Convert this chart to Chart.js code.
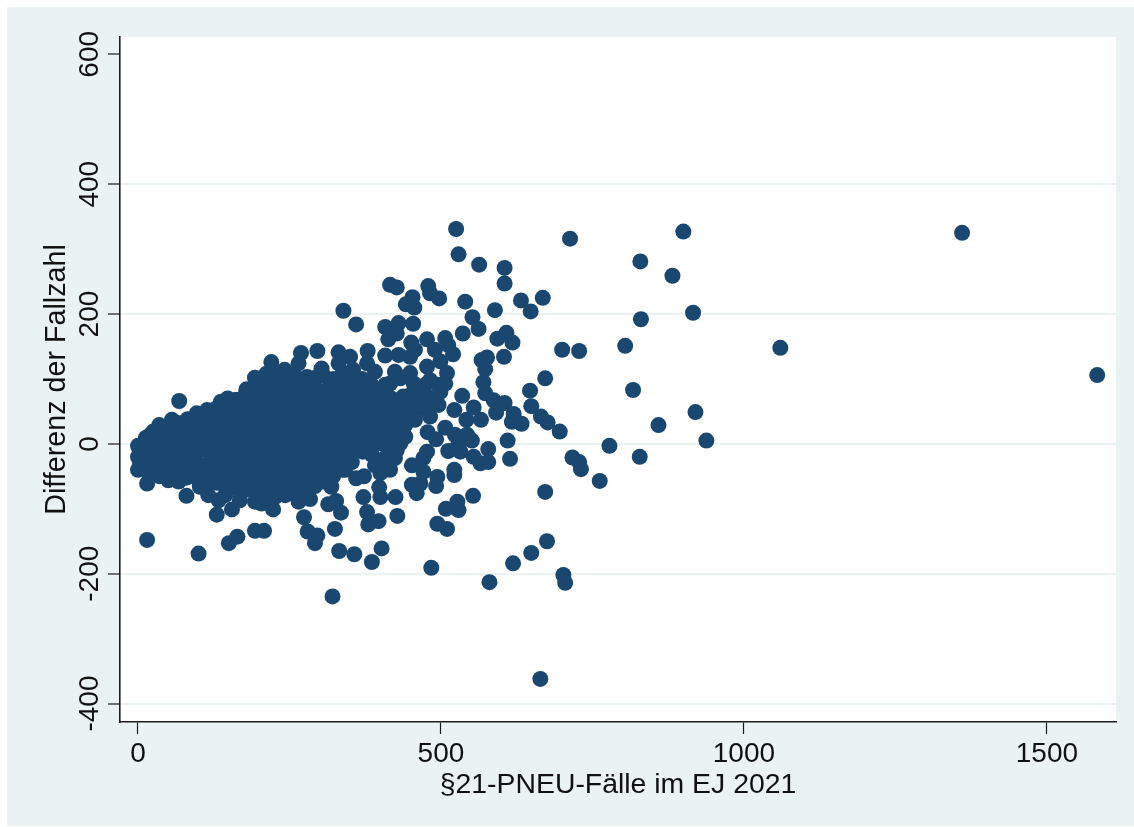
<!DOCTYPE html>
<html>
<head>
<meta charset="utf-8">
<script src="https://cdn.jsdelivr.net/npm/chart.js@4"></script>
<style>
html,body{margin:0;padding:0;background:#fff;}
canvas{display:block;}
</style>
</head>
<body>
<div style="width:1134px;height:827px"><canvas id="c"></canvas></div>
<script>
const xTicks = [0, 500, 1000, 1500];
const yTicks = [-400, -200, 0, 200, 400, 600];
const xTitle = "§21-PNEU-Fälle im EJ 2021";
const yTitle = "Differenz der Fallzahl";

// right-hand outliers
const faelleRechts = [1583,1360,1060,713,900,829,882,668,830,916,
  700,728,804,672,817,920,859,938,778,828,
  665,676,696,717,728,731,762,672,675,702,705,664];
const diffRechts = [106,325,148,316,327,281,259,225,192,202,
  145,143,151,101,83,49,29,5,-3,-20,
  42,33,19,-21,-28,-39,-57,-74,-150,-202,-214,-362];

// upper fan
const faelleOben = [525,529,563,605,605,416,427,479,482,497,
  453,442,456,540,589,632,648,552,562,454,
  430,408,427,413,536,608,593,618,604,576,
  567,573,570,477,507,451,457,449,430,408,
  512,520,490,477,499,424,449,510,507,482,
  455,416,647];
const diffOben = [331,292,276,271,247,245,241,243,232,224,
  226,215,210,219,206,221,204,195,177,185,
  186,180,170,161,170,171,162,156,134,133,
  129,115,95,161,163,156,145,134,137,136,
  152,138,145,119,127,111,109,109,93,98,
  93,93,82];

// middle right cluster
const faelleMitte = [535,573,587,605,591,620,617,633,649,522,
  554,542,566,507,478,492,523,543,551,529,
  610,614,578,512,532,554,578,565,477,471,
  452,471,522,522,494,492,452,466,460,425,
  428,400,398,397,553,527,508,529,494,510,
  619,649,580,484];
const diffMitte = [74,78,67,63,48,46,34,31,58,52,
  56,37,37,25,18,7,14,14,5,1,
  5,-23,-8,-11,-12,-20,-28,-30,-12,-22,
  -33,-43,-40,-48,-51,-65,-63,-61,-76,-82,
  -111,-82,-67,-119,-80,-89,-100,-102,-123,-131,
  -184,-168,-213,-191];

// lower fringe
const faelleUnten = [15,100,150,164,193,208,68,15,80,130,
  155,133,193,204,223,265,284,274,280,296,
  292,325,314,327,335,332,357,386,402,321,
  380,378,372,373,360,319,287,397,413,400,
  386,416,144,168,177,116,201,226,243,251,210];
const diffUnten = [-148,-169,-153,-143,-134,-134,66,-61,-80,-109,
  -101,-87,-89,-92,-101,-89,-85,-113,-135,-141,
  -153,-131,-93,-88,-106,-165,-170,-182,-161,-235,
  -124,-105,-82,-50,-53,-66,-66,-30,-38,-45,
  -17,-25,-79,-87,-71,-79,-79,-82,-79,-67,-71];

// upper and outer rim of the dense cloud
const faelleRand = [339,360,220,269,296,265,242,303,331,350,
  379,331,193,212,279,295,391,355,378,179,
  148,137,114,97,56,35,25,13,0,0,
  0,50,67,102,168,433,441,427,455,468,
  438,482,496,375,441,424,449,408,342,317,
  8,8,8,3,3,
  474,495,457,479,499,457,477,441,457,441,428,419,408,424,416,391,
  317,342,375,408,433,267,243];
const diffRand = [205,184,126,140,143,124,114,116,141,134,
  143,124,102,108,103,103,111,114,124,84,
  70,65,52,47,37,29,19,9,-3,-20,
  -40,-56,-58,-66,-71,1,11,-10,47,62,
  73,42,60,-3,37,52,75,-2,-40,-53,
  -5,-20,-35,-12,-28,
  91,91,75,72,80,55,52,55,37,29,18,-2,-22,-22,-40,-33,
  91,101,95,91,101,91,91];

// estimated fill of the overplotted core
const faelleKern = [18,17,19,18,
  34,35,33,34,36,
  50,51,49,50,52,
  66,67,65,66,68,64,
  82,83,81,82,84,80,
  98,99,97,98,100,96,
  114,115,113,114,116,112,115,
  130,131,129,130,132,128,131,
  146,147,145,146,148,144,147,145,
  162,163,161,162,164,160,163,161,
  178,179,177,178,180,176,179,177,178,
  194,195,193,194,196,192,195,193,194,
  210,211,209,210,212,208,211,209,210,212,
  226,227,225,226,228,224,227,225,226,228,
  242,243,241,242,244,240,243,241,242,244,
  258,259,257,258,260,256,259,257,258,260,
  274,275,273,274,276,272,275,273,274,276,
  290,291,289,290,292,288,291,289,290,292,
  306,307,305,306,308,304,307,305,306,
  322,323,321,322,324,320,323,321,322,
  338,339,337,338,340,336,339,337,
  354,355,353,354,356,352,355,353,
  370,371,369,370,372,368,371,
  386,387,385,386,388,384,
  402,403,401,402,404,
  418,419,417,418,
  434,435,433];
const diffKern = [12,-8,-28,-44,
  20,1,-19,-38,-50,
  28,9,-11,-31,-50,
  32,18,-1,-21,-41,-52,
  38,22,2,-18,-38,-52,
  42,28,8,-12,-32,-52,
  46,30,10,-10,-30,-50,-60,
  55,38,19,-1,-21,-41,-60,
  62,44,24,4,-16,-36,-56,-66,
  68,50,30,10,-10,-30,-50,-68,
  78,60,40,20,0,-20,-40,-60,-70,
  92,70,50,30,10,-10,-30,-50,-70,
  100,80,60,40,20,0,-20,-40,-60,-72,
  105,90,70,50,30,10,-10,-30,-50,-70,
  100,80,60,40,20,0,-20,-40,-60,-72,
  105,90,70,50,30,10,-10,-30,-50,-70,
  95,80,60,40,20,0,-20,-40,-60,-72,
  100,88,70,50,30,10,-10,-30,-50,-65,
  105,80,60,40,20,0,-20,-40,-58,
  100,90,70,50,30,10,-10,-30,-50,
  110,80,60,40,20,0,-20,-40,
  105,90,70,50,30,10,-10,-28,
  100,80,60,40,20,0,-12,
  90,70,50,30,10,-10,
  80,60,40,20,0,
  70,50,30,10,
  55,38,18];

const faelle = [].concat(faelleKern, faelleRand, faelleUnten, faelleMitte, faelleOben, faelleRechts);
const diff   = [].concat(diffKern, diffRand, diffUnten, diffMitte, diffOben, diffRechts);
const punkte = faelle.map((x, i) => ({x, y: diff[i]}));

const TEAL = '#eaf2f3', NAVY = '#1a476f', INK = '#111111', AXIS = '#1c1c1c';
const FONT = '"Liberation Sans", Arial, sans-serif';

const hintergrund = {
  id: 'hintergrund',
  beforeDraw(chart) {
    const {ctx, chartArea: a} = chart;
    ctx.save();
    ctx.fillStyle = '#ffffff';
    ctx.fillRect(0, 0, 1134, 827);
    ctx.fillStyle = TEAL;
    ctx.fillRect(7, 7, 1127, 819);
    ctx.fillStyle = '#ffffff';
    ctx.fillRect(a.left, a.top, a.right - a.left, a.bottom - a.top);
    ctx.restore();
  }
};

new Chart(document.getElementById('c'), {
  type: 'scatter',
  data: {datasets: [{
    data: punkte,
    backgroundColor: NAVY,
    borderWidth: 0,
    pointRadius: 8,
    pointHoverRadius: 8
  }]},
  plugins: [hintergrund],
  options: {
    responsive: true,
    maintainAspectRatio: false,
    animation: false,
    events: [],
    layout: {padding: {left: 0, top: 37, right: 18, bottom: 0}},
    plugins: {legend: {display: false}, tooltip: {enabled: false}, title: {display: false}},
    scales: {
      x: {
        type: 'linear',
        min: -29.7,
        max: 1614,
        afterFit(s) { s.height = 105; },
        afterBuildTicks(s) { s.ticks = xTicks.map(value => ({value})); },
        grid: {drawOnChartArea: false, drawTicks: true, tickLength: 12, tickColor: AXIS, tickWidth: 1.2},
        border: {display: true, color: AXIS, width: 1.6},
        ticks: {color: INK, font: {family: FONT, size: 28}, padding: 3, maxRotation: 0, minRotation: 0,
          autoSkip: false, callback: v => String(v)},
        title: {display: true, text: xTitle, color: INK, font: {family: FONT, size: 28.4},
          align: 'center', padding: {top: 0, bottom: 25}}
      },
      y: {
        type: 'linear',
        min: -428.4,
        max: 626.7,
        afterFit(s) { s.width = 120; },
        afterBuildTicks(s) { s.ticks = yTicks.map(value => ({value})); },
        grid: {
          drawOnChartArea: true,
          drawTicks: true,
          tickLength: 12,
          tickColor: AXIS,
          tickWidth: 1.2,
          lineWidth: 2,
          color: ctx => (ctx.tick && ctx.tick.value === 600) ? 'rgba(0,0,0,0)' : TEAL
        },
        border: {display: true, color: AXIS, width: 1.6},
        ticks: {color: INK, font: {family: FONT, size: 28}, padding: -10, minRotation: 90, maxRotation: 90,
          crossAlign: 'center', autoSkip: false, callback: v => String(v)},
        title: {display: true, text: yTitle, color: INK, font: {family: FONT, size: 28.7},
          padding: {top: 40, bottom: 0}}
      }
    }
  }
});
</script>
</body>
</html>
